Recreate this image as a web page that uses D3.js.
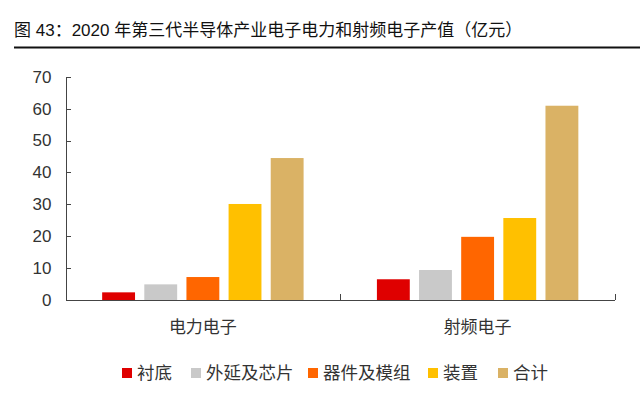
<!DOCTYPE html>
<html>
<head>
<meta charset="utf-8">
<title>2020 年第三代半导体产业电子电力和射频电子产值</title>
<script src="https://cdn.jsdelivr.net/npm/d3@7/dist/d3.min.js"></script>
<style>
    body { margin: 0; background: #fff; }
    .chart text {
        font-family: "Liberation Sans", Arial, "Noto Sans CJK SC", sans-serif;
        fill: #333;
    }
    .axis path, .axis line { stroke: #444; shape-rendering: crispEdges; }
</style>
</head>
<body>
<script>
// data
var categories = ["电力电子", "射频电子"];
var seriesNames = ["衬底", "外延及芯片", "器件及模组", "装置", "合计"];
var seriesColors = ["#df0000", "#c9c9c9", "#ff6600", "#ffc000", "#dab265"];
var powerValues = [2.4, 4.9, 7.2, 30.1, 44.5];
var rfValues = [6.5, 9.4, 19.8, 25.7, 60.9];
var yTicks = [0, 10, 20, 30, 40, 50, 60, 70];

var width = 640, height = 405;
var plotLeft = 65.5, plotRight = 615, plotTop = 76.7, plotBottom = 300;

var svg = d3.select("body").append("svg")
    .attr("class", "chart")
    .attr("width", width)
    .attr("height", height);

// title + rule
svg.append("text")
    .attr("x", 14)
    .attr("y", 36)
    .style("font-size", "17px")
    .style("fill", "#111")
    .text("图 43：2020 年第三代半导体产业电子电力和射频电子产值（亿元）");
svg.append("line")
    .attr("x1", 14).attr("x2", 640)
    .attr("y1", 47.5).attr("y2", 47.5)
    .attr("stroke", "#111")
    .attr("stroke-width", 2);

var rows = categories.map(function (c, i) {
    var vals = i == 0 ? powerValues : rfValues;
    return { cat: c, values: seriesNames.map(function (s, j) { return { name: s, value: vals[j], color: seriesColors[j] }; }) };
});

var x0 = d3.scaleBand().domain(categories).range([plotLeft, plotRight]).padding(0);
var x1 = d3.scaleBand().domain(seriesNames).range([0, x0.bandwidth()])
    .paddingInner(0.22).paddingOuter(0.87);
var y = d3.scaleLinear().domain([0, 70]).range([plotBottom, plotTop]);

// bars
var groups = svg.selectAll("g.grp")
    .data(rows)
    .enter().append("g")
    .attr("class", "grp")
    .attr("transform", function (d) { return "translate(" + x0(d.cat) + ",0)"; });

groups.selectAll("rect")
    .data(function (d) { return d.values; })
    .enter().append("rect")
    .attr("x", function (d) { return x1(d.name); })
    .attr("y", function (d) { return y(d.value); })
    .attr("width", x1.bandwidth())
    .attr("height", function (d) { return y(0) - y(d.value); })
    .attr("fill", function (d) { return d.color; });

// y axis, ticks point inward
var yAxis = d3.axisRight(y).tickValues(yTicks).tickSize(5).tickSizeOuter(0);
var yg = svg.append("g")
    .attr("class", "axis")
    .attr("transform", "translate(" + plotLeft + ",0)")
    .call(yAxis);
yg.selectAll("text")
    .attr("x", -14)
    .attr("text-anchor", "end")
    .style("font-size", "17px");

// x axis with boundary ticks
var xg = svg.append("g")
    .attr("class", "axis")
    .attr("transform", "translate(0," + plotBottom + ")");
xg.append("line")
    .attr("x1", plotLeft).attr("x2", plotRight)
    .attr("y1", 0).attr("y2", 0);
var bounds = categories.slice(1).map(function (c) { return x0(c); }).concat([plotRight]);
xg.selectAll("line.tk")
    .data(bounds)
    .enter().append("line")
    .attr("class", "tk")
    .attr("x1", function (d) { return d; }).attr("x2", function (d) { return d; })
    .attr("y1", 0).attr("y2", -6);
xg.selectAll("text")
    .data(categories)
    .enter().append("text")
    .attr("x", function (d) { return x0(d) + x0.bandwidth() / 2; })
    .attr("y", 33)
    .attr("text-anchor", "middle")
    .style("font-size", "17px")
    .text(function (d) { return d; });

// legend
var legendX = [122, 191, 308, 428, 498];
var legend = svg.selectAll("g.leg")
    .data(seriesNames)
    .enter().append("g")
    .attr("class", "leg")
    .attr("transform", function (d, i) { return "translate(" + legendX[i] + ",368)"; });
legend.append("rect")
    .attr("width", 10).attr("height", 10)
    .attr("fill", function (d, i) { return seriesColors[i]; });
legend.append("text")
    .attr("x", 15)
    .attr("y", 11)
    .style("font-size", "17.5px")
    .text(function (d) { return d; });
</script>
</body>
</html>
